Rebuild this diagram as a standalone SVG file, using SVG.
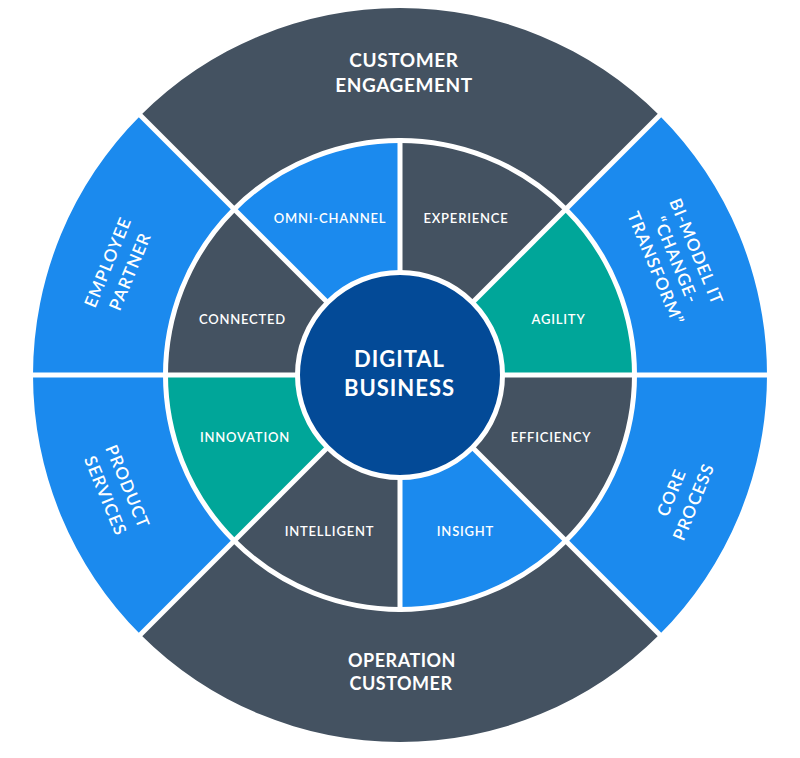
<svg xmlns="http://www.w3.org/2000/svg" width="800" height="758" viewBox="0 0 800 758">
<style>
.dark{fill:#445261}
.blue{fill:#1b8aee}
.teal{fill:#00a699}
.core{fill:#034a97;stroke:#fff;stroke-width:5}
.sep{stroke:#fff;stroke-width:5;fill:none}
text{font-family:Lato,"Open Sans","Liberation Sans",sans-serif;fill:#fff;text-anchor:middle}
.big{font-size:19px;font-weight:700;letter-spacing:0.6px}
.big2{font-size:18px;font-weight:700;letter-spacing:0.5px}
.rot{font-size:17px;font-weight:600;letter-spacing:1px}
.sm{font-size:13px;font-weight:600;letter-spacing:0.8px}
.ctr{font-size:22px;font-weight:700;letter-spacing:1px}
</style>
<rect width="800" height="758" fill="#fff"/>
<g id="outer-ring">
<g id="customer-engagement">
<path class="dark" d="M659.51,115.49 A367,367 0 0 0 140.49,115.49 L234.18,209.18 A234.5,234.5 0 0 1 565.82,209.18 Z"/>
<text class="big" x="404" y="67">CUSTOMER</text>
<text class="big" x="404" y="92">ENGAGEMENT</text>
</g>
<g id="employee-partner">
<path class="blue" d="M140.49,115.49 A367,367 0 0 0 33,375 L165.5,375 A234.5,234.5 0 0 1 234.18,209.18 Z"/>
<g transform="translate(118.5,266.5) rotate(-67.5)">
<text class="rot" x="0" y="-5.5">EMPLOYEE</text>
<text class="rot" x="0" y="18.5">PARTNER</text>
</g>
</g>
<g id="product-services">
<path class="blue" d="M33,375 A367,367 0 0 0 140.49,634.51 L234.18,540.82 A234.5,234.5 0 0 1 165.5,375 Z"/>
<g transform="translate(117,491) rotate(67.5)">
<text class="rot" x="0" y="-5.5">PRODUCT</text>
<text class="rot" x="0" y="18.5">SERVICES</text>
</g>
</g>
<g id="operation-customer">
<path class="dark" d="M140.49,634.51 A367,367 0 0 0 659.51,634.51 L565.82,540.82 A234.5,234.5 0 0 1 234.18,540.82 Z"/>
<text class="big2" x="402" y="667">OPERATION</text>
<text class="big2" x="401" y="690">CUSTOMER</text>
</g>
<g id="core-process">
<path class="blue" d="M659.51,634.51 A367,367 0 0 0 767,375 L634.5,375 A234.5,234.5 0 0 1 565.82,540.82 Z"/>
<g transform="translate(682,497) rotate(-67.5)">
<text class="rot" x="0" y="-5.5">CORE</text>
<text class="rot" x="0" y="18.5">PROCESS</text>
</g>
</g>
<g id="bi-model-it">
<path class="blue" d="M767,375 A367,367 0 0 0 659.51,115.49 L565.82,209.18 A234.5,234.5 0 0 1 634.5,375 Z"/>
<g transform="translate(676,260) rotate(67.5)">
<text class="rot" x="0" y="-16">BI-MODEL IT</text>
<text class="rot" x="0" y="6">“CHANGE-</text>
<text class="rot" x="0" y="28">TRANSFORM”</text>
</g>
</g>
</g>
<g id="inner-ring">
<g id="omni-channel"><path class="blue" d="M400,375 L400,140.5 A234.5,234.5 0 0 0 234.18,209.18 Z"/><text class="sm" x="330" y="223">OMNI-CHANNEL</text></g>
<g id="experience"><path class="dark" d="M400,375 L565.82,209.18 A234.5,234.5 0 0 0 400,140.5 Z"/><text class="sm" x="466" y="223">EXPERIENCE</text></g>
<g id="agility"><path class="teal" d="M400,375 L634.5,375 A234.5,234.5 0 0 0 565.82,209.18 Z"/><text class="sm" x="558.5" y="324">AGILITY</text></g>
<g id="efficiency"><path class="dark" d="M400,375 L565.82,540.82 A234.5,234.5 0 0 0 634.5,375 Z"/><text class="sm" x="551" y="442">EFFICIENCY</text></g>
<g id="insight"><path class="blue" d="M400,375 L400,609.5 A234.5,234.5 0 0 0 565.82,540.82 Z"/><text class="sm" x="465.5" y="536">INSIGHT</text></g>
<g id="intelligent"><path class="dark" d="M400,375 L234.18,540.82 A234.5,234.5 0 0 0 400,609.5 Z"/><text class="sm" x="329.5" y="536">INTELLIGENT</text></g>
<g id="innovation"><path class="teal" d="M400,375 L165.5,375 A234.5,234.5 0 0 0 234.18,540.82 Z"/><text class="sm" x="245" y="442">INNOVATION</text></g>
<g id="connected"><path class="dark" d="M400,375 L234.18,209.18 A234.5,234.5 0 0 0 165.5,375 Z"/><text class="sm" x="242.5" y="324">CONNECTED</text></g>
</g>
<g id="separators">
<circle class="sep" cx="400" cy="375" r="234.5"/>
<line class="sep" x1="30" y1="375" x2="770" y2="375"/>
<line class="sep" x1="138" y1="113" x2="662" y2="637"/>
<line class="sep" x1="662" y1="113" x2="138" y2="637"/>
<line class="sep" x1="400" y1="138" x2="400" y2="612"/>
</g>
<g id="digital-business">
<circle class="core" cx="400" cy="375" r="102.5"/>
<text class="ctr" x="399.5" y="367">DIGITAL</text>
<text class="ctr" x="399.5" y="396">BUSINESS</text>
</g>
</svg>
